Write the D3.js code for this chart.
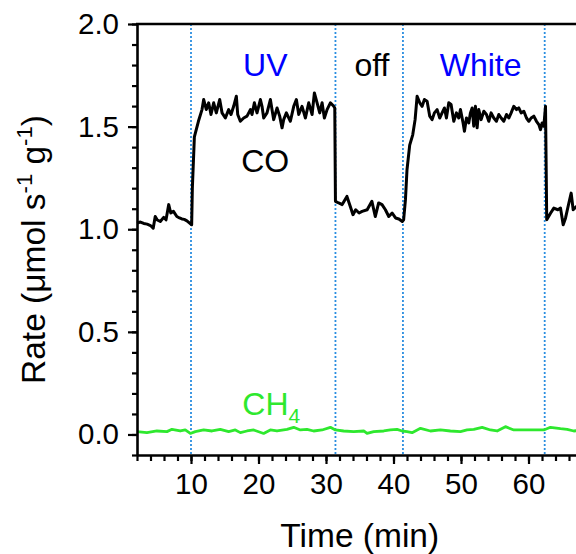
<!DOCTYPE html>
<html>
<head>
<meta charset="utf-8">
<script src="https://cdn.jsdelivr.net/npm/d3@7"></script>
<style>
  body { margin: 0; background: #fff; }
  text { font-family: "Liberation Sans", Arial, sans-serif; }
</style>
</head>
<body>
<svg id="chart" width="576" height="554"></svg>
<script>
// CO evolution rate, [time (min), rate]
var coData = [
  [2.0,1.030],[2.5,1.035],[3.0,1.028],[3.5,1.025],[4.0,1.018],[4.4,1.005],[4.7,1.062],
  [5.0,1.045],[5.45,1.038],[5.95,1.058],[6.3,1.046],[6.7,1.120],[7.0,1.079],[7.4,1.087],
  [7.9,1.062],[8.3,1.055],[8.65,1.050],[9.0,1.048],[9.4,1.041],[9.8,1.030],[10.1,1.022],
  [10.2,1.200],[10.5,1.450],[11.1,1.526],
  [11.63,1.583],[11.88,1.632],[12.27,1.583],[12.62,1.616],[12.96,1.559],[13.36,1.616],
  [13.75,1.567],[14.25,1.632],[14.6,1.567],[15.09,1.542],[15.58,1.583],[15.93,1.559],
  [16.32,1.599],[16.72,1.648],[16.92,1.559],[17.31,1.526],[17.81,1.542],[18.3,1.551],
  [18.8,1.583],[19.04,1.559],[19.39,1.616],[19.78,1.567],[20.28,1.632],[20.52,1.599],
  [20.77,1.542],[21.26,1.567],[21.76,1.632],[22.0,1.583],[22.25,1.534],[22.75,1.591],
  [23.14,1.551],[23.49,1.494],[23.73,1.534],[24.13,1.567],[24.72,1.526],[25.22,1.599],
  [25.61,1.632],[25.96,1.559],[26.45,1.599],[26.95,1.542],[27.44,1.616],[27.94,1.559],
  [28.28,1.664],[28.68,1.616],[29.07,1.567],[29.42,1.616],[29.76,1.542],[30.16,1.583],
  [30.65,1.616],[31.15,1.599],[31.3,1.590],
  [31.4,1.136],[31.88,1.128],[32.4,1.120],[33.1,1.160],[33.6,1.111],[34.0,1.071],
  [34.4,1.095],[34.9,1.079],[35.35,1.087],[36.1,1.095],[36.8,1.136],[37.3,1.062],
  [37.8,1.128],[38.3,1.120],[38.8,1.095],[39.3,1.062],[39.8,1.079],[40.3,1.055],
  [40.8,1.050],[41.3,1.038],[41.5,1.046],
  [41.77,1.144],[42.0,1.290],[42.4,1.410],[42.85,1.460],[43.2,1.534],[43.5,1.648],
  [43.89,1.616],[44.24,1.599],[44.58,1.632],[44.98,1.624],[45.37,1.551],[45.72,1.534],
  [46.06,1.567],[46.46,1.583],[46.85,1.542],[47.2,1.567],[47.55,1.591],[47.84,1.542],
  [48.19,1.616],[48.53,1.608],[48.93,1.526],[49.32,1.567],[49.67,1.542],[49.92,1.583],
  [50.31,1.518],[50.51,1.477],[50.81,1.542],[51.15,1.518],[51.4,1.567],[51.65,1.591],
  [51.89,1.502],[52.14,1.599],[52.39,1.494],[52.63,1.583],[52.98,1.534],[53.38,1.575],
  [53.77,1.559],[54.12,1.526],[54.46,1.567],[54.86,1.542],[55.25,1.526],[55.6,1.559],
  [55.95,1.542],[56.34,1.526],[56.74,1.559],[57.08,1.542],[57.43,1.567],[57.82,1.599],
  [58.22,1.583],[58.56,1.591],[58.91,1.567],[59.31,1.575],[59.7,1.542],[60.05,1.526],
  [60.39,1.542],[60.79,1.551],[61.18,1.526],[61.53,1.510],[61.78,1.485],[62.02,1.518],
  [62.27,1.502],[62.52,1.599],
  [62.7,1.046],[63.26,1.078],[63.75,1.103],[64.35,1.095],[64.74,1.103],[65.14,1.022],
  [65.48,1.054],[65.98,1.128],[66.32,1.176],[66.62,1.095],[67.1,1.111],[67.6,1.090]
];

// CH4 evolution rate, [time (min), rate]
var ch4Data = [
  [2.0,0.014],[3.47,0.009],[4.95,0.017],[6.44,0.014],[7.18,0.025],[8.41,0.017],
  [9.15,0.022],[9.9,0.005],[10.64,0.014],[11.87,0.022],[13.11,0.017],[14.34,0.025],
  [15.58,0.014],[16.56,0.022],[17.31,0.009],[18.29,0.017],[19.28,0.022],[20.76,0.005],
  [21.75,0.022],[22.74,0.017],[24.22,0.025],[25.21,0.035],[26.2,0.022],[27.19,0.025],
  [28.17,0.017],[29.41,0.022],[30.65,0.035],[31.39,0.022],[32.62,0.017],[34.1,0.014],
  [35.59,0.017],[36.08,0.005],[37.07,0.014],[38.55,0.017],[39.54,0.022],[40.53,0.025],
  [41.27,0.017],[42.01,0.014],[42.75,0.009],[44.0,0.030],[45.47,0.017],[46.95,0.022],
  [48.43,0.017],[49.92,0.014],[50.9,0.022],[51.89,0.025],[53.13,0.035],[54.36,0.022],
  [55.35,0.017],[56.58,0.038],[57.82,0.022],[59.3,0.022],[60.29,0.022],[62.27,0.022],
  [63.25,0.035],[64.74,0.028],[65.73,0.025],[66.71,0.017],[67.6,0.020]
];

// times where the light source was switched
var switchTimes = [10, 31.4, 41.4, 62.4];
var lightLabels = ["UV", "off", "White"];
var lightColors = ["#0000ff", "#000000", "#0000ff"];

var xMajor = [10, 20, 30, 40, 50, 60];
var yMajor = [0.0, 0.5, 1.0, 1.5, 2.0];

//////////////////////////////////////////////////////////////////////////////

var svg = d3.select("#chart");
var plot = { left: 137, top: 24, bottom: 455, right: 596 };

var xScale = d3.scaleLinear()
  .domain([2, 70])
  .range([plot.left, plot.right]);

var yScale = d3.scaleLinear()
  .domain([-0.1, 2.0])
  .range([plot.bottom, plot.top]);

svg.append("rect")
  .attr("width", 576)
  .attr("height", 554)
  .attr("fill", "#fff");

// switching lines
svg.selectAll(".switch")
  .data(switchTimes)
  .enter()
  .append("line")
  .attr("class", "switch")
  .attr("x1", function(d) { return xScale(d); })
  .attr("x2", function(d) { return xScale(d); })
  .attr("y1", plot.top)
  .attr("y2", plot.bottom)
  .attr("stroke", "#2a8ee0")
  .attr("stroke-width", 1.8)
  .attr("stroke-dasharray", "2,2");

var line = d3.line()
  .x(function(d) { return xScale(d[0]); })
  .y(function(d) { return yScale(d[1]); });

svg.append("path")
  .datum(ch4Data)
  .attr("d", line)
  .attr("fill", "none")
  .attr("stroke", "#2ee82e")
  .attr("stroke-width", 2.8)
  .attr("stroke-linejoin", "round");

svg.append("path")
  .datum(coData)
  .attr("d", line)
  .attr("fill", "none")
  .attr("stroke", "#000")
  .attr("stroke-width", 3)
  .attr("stroke-linejoin", "round");

// minor ticks
svg.append("g")
  .attr("transform", "translate(" + plot.left + ",0)")
  .call(d3.axisLeft(yScale).tickValues(d3.range(-0.1, 2.05, 0.1)).tickSize(5).tickFormat(""))
  .call(function(g) { g.select(".domain").remove(); })
  .selectAll("line").attr("stroke-width", 2.2);

svg.append("g")
  .attr("transform", "translate(0," + plot.bottom + ")")
  .call(d3.axisBottom(xScale).tickValues(d3.range(2, 70, 2)).tickSize(6).tickFormat(""))
  .call(function(g) { g.select(".domain").remove(); })
  .selectAll("line").attr("stroke-width", 2.2);

// y axis
var yAxis = svg.append("g")
  .attr("transform", "translate(" + plot.left + ",0)")
  .call(d3.axisLeft(yScale).tickValues(yMajor).tickSize(9).tickSizeOuter(0).tickPadding(9)
    .tickFormat(d3.format(".1f")));

yAxis.select(".domain").attr("stroke-width", 2.6);
yAxis.selectAll("line").attr("stroke-width", 2.2);
yAxis.selectAll("text")
  .style("font-size", "29.5px")
  .attr("fill", "#000");

// x axis
var xAxis = svg.append("g")
  .attr("transform", "translate(0," + plot.bottom + ")")
  .call(d3.axisBottom(xScale).tickValues(xMajor).tickSize(9).tickSizeOuter(0).tickPadding(9));

xAxis.select(".domain").attr("stroke-width", 2.6);
xAxis.selectAll("line").attr("stroke-width", 2.2);
xAxis.selectAll("text")
  .style("font-size", "29.5px")
  .attr("fill", "#000");

// top frame
svg.append("line")
  .attr("x1", plot.left - 1)
  .attr("x2", plot.right)
  .attr("y1", plot.top)
  .attr("y2", plot.top)
  .attr("stroke", "#000")
  .attr("stroke-width", 2.6);

// axis titles
svg.append("text")
  .attr("x", (xScale(20) + xScale(50)) / 2)
  .attr("y", 547)
  .style("text-anchor", "middle")
  .style("font-size", "33.5px")
  .text("Time (min)");

var yTitle = svg.append("text")
  .attr("transform", "translate(45,384) rotate(-90)")
  .style("font-size", "33.5px");
yTitle.append("tspan").text("Rate (\u03bcmol s");
yTitle.append("tspan").attr("dy", -13).style("font-size", "22px").text("-1");
yTitle.append("tspan").attr("dy", 13).text(" g");
yTitle.append("tspan").attr("dy", -13).style("font-size", "22px").text("-1");
yTitle.append("tspan").attr("dy", 13).text(")");

// light source labels
var labelTimes = [21, 36.8, 52.9];
svg.selectAll(".light")
  .data(lightLabels)
  .enter()
  .append("text")
  .attr("class", "light")
  .attr("x", function(d, i) { return xScale(labelTimes[i]); })
  .attr("y", yScale(1.745))
  .attr("fill", function(d, i) { return lightColors[i]; })
  .style("text-anchor", "middle")
  .style("font-size", "32px")
  .text(function(d) { return d; });

// series labels
svg.append("text")
  .attr("x", xScale(21))
  .attr("y", yScale(1.28))
  .style("text-anchor", "middle")
  .style("font-size", "32px")
  .text("CO");

var ch4Label = svg.append("text")
  .attr("x", xScale(17.6))
  .attr("y", yScale(0.095))
  .attr("fill", "#2ee82e")
  .style("font-size", "32px");
ch4Label.append("tspan").text("CH");
ch4Label.append("tspan").attr("dy", 8).style("font-size", "21px").text("4");
</script>
</body>
</html>
